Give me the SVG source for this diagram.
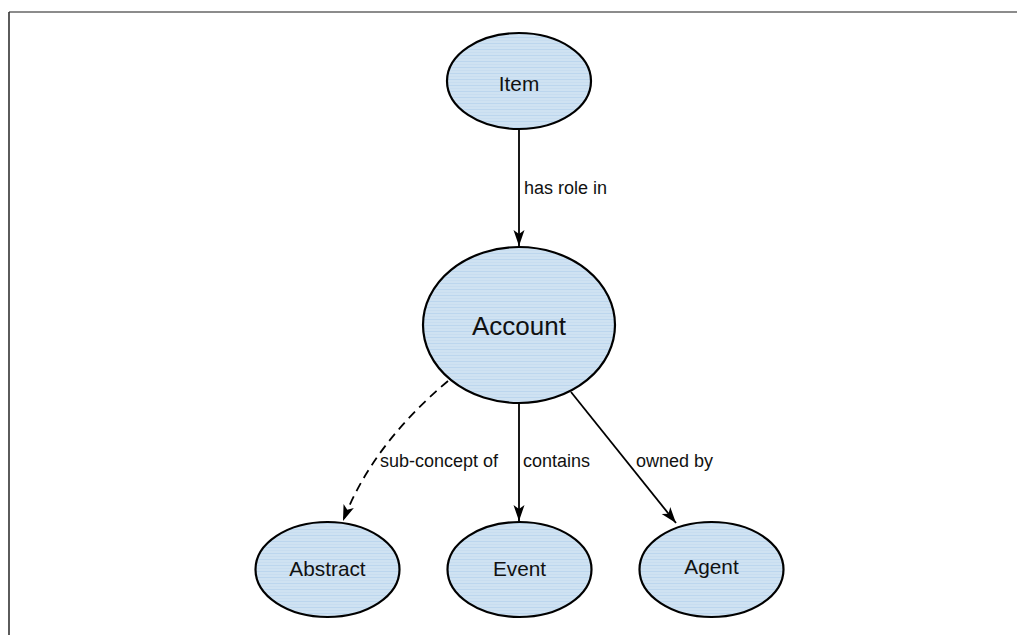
<svg xmlns="http://www.w3.org/2000/svg" width="1017" height="635" viewBox="0 0 1017 635">
  <style>
    .node ellipse { fill: url(#streaks); stroke: #000; stroke-width: 2.2; }
    .node text { font-family: "Liberation Sans", Arial, sans-serif; font-size: 20.8px; fill: #111; text-anchor: middle; }
    .edge { fill: none; stroke: #000; stroke-width: 1.8; marker-end: url(#arrow); }
    .dashed { stroke-dasharray: 9 6; }
    .label { font-family: "Liberation Sans", Arial, sans-serif; font-size: 18px; fill: #111; }
  </style>
  <defs>
    <pattern id="streaks" patternUnits="userSpaceOnUse" width="40" height="6">
      <rect width="40" height="6" fill="#cfe2f2"/>
      <rect y="1" width="40" height="1" fill="#bcd6ee"/>
      <rect y="4" width="40" height="0.8" fill="#c6dcf0"/>
    </pattern>
    <marker id="arrow" markerUnits="userSpaceOnUse" markerWidth="18" markerHeight="12" refX="16" refY="6" orient="auto">
      <path d="M0,0.5 L16,6 L0,11.5 L4,6 Z" fill="#000"/>
    </marker>
  </defs>
  <rect width="1017" height="635" fill="#fff"/>
  <g id="frame">
    <line x1="9" y1="12" x2="1017" y2="12" stroke="#666" stroke-width="1.6"/>
    <line x1="9" y1="12" x2="9" y2="635" stroke="#333" stroke-width="1.6"/>
  </g>
  <g id="connectors">
    <line class="edge" x1="519" y1="129" x2="519" y2="246"/>
    <text class="label" x="524" y="194">has role in</text>
    <path class="edge dashed" d="M448,381 Q372,445 343,521"/>
    <text class="label" x="380" y="467">sub-concept of</text>
    <line class="edge" x1="519" y1="403" x2="519" y2="521"/>
    <text class="label" x="523" y="467">contains</text>
    <line class="edge" x1="571" y1="392" x2="676" y2="523"/>
    <text class="label" x="636" y="467">owned by</text>
  </g>
  <g id="node-item" class="node">
    <ellipse cx="519" cy="81" rx="72" ry="48"/>
    <text x="519" y="91">Item</text>
  </g>
  <g id="node-account" class="node">
    <ellipse cx="519" cy="325" rx="96" ry="78"/>
    <text x="519" y="335" style="font-size:26px">Account</text>
  </g>
  <g id="node-abstract" class="node">
    <ellipse cx="327.5" cy="569.5" rx="72" ry="47.5"/>
    <text x="327.5" y="576">Abstract</text>
  </g>
  <g id="node-event" class="node">
    <ellipse cx="519.5" cy="569.5" rx="72" ry="47.5"/>
    <text x="519.5" y="576">Event</text>
  </g>
  <g id="node-agent" class="node">
    <ellipse cx="711.5" cy="569.5" rx="72" ry="47.5"/>
    <text x="711.5" y="574">Agent</text>
  </g>
</svg>
